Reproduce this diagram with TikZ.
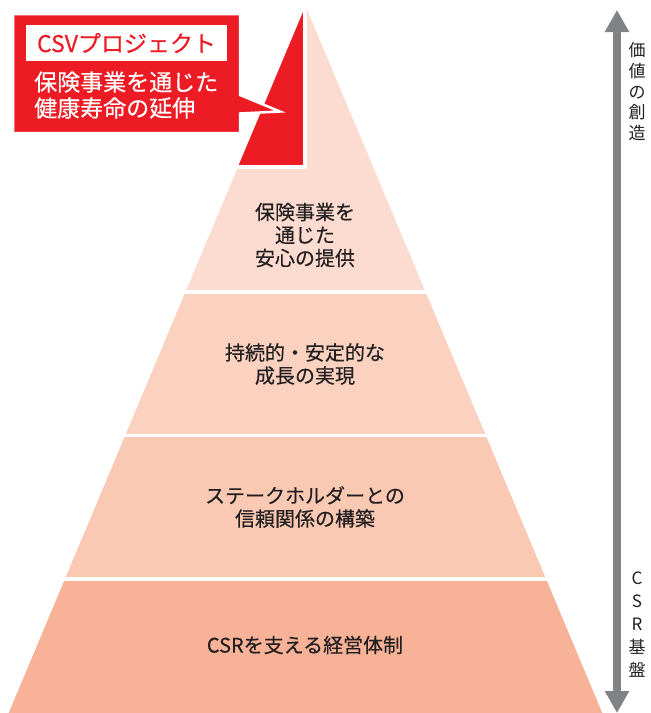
\documentclass[tikz,border=0pt]{standalone}
\usepackage{fontspec}
\newfontfamily\jp{Noto Sans CJK JP}
\newfontfamily\jpm[FakeBold=0.35]{Noto Sans CJK JP}
\usetikzlibrary{arrows.meta}
\definecolor{tierA}{HTML}{FCDCD0}
\definecolor{tierB}{HTML}{FBD2C0}
\definecolor{tierC}{HTML}{FAC9B3}
\definecolor{tierD}{HTML}{F8B298}
\definecolor{csvred}{HTML}{ED1C24}
\definecolor{arrowgray}{HTML}{808285}
\definecolor{textdark}{HTML}{231F20}
\tikzset{
  tiertext/.style={font=\jpm\fontsize{20}{23}\selectfont, text=textdark, align=center, inner sep=0pt},
  vtext/.style={font=\jp\fontsize{17}{20.6}\selectfont, text=textdark, align=center, inner sep=0pt},
}
\begin{document}
\begin{tikzpicture}[x=1pt,y=-1pt]
\useasboundingbox (0,0) rectangle (651,713);
\coordinate (apex) at (305.5,6);
\coordinate (bl) at (8.7,713);
\coordinate (br) at (602.3,713);
\begin{scope}
  \clip (apex) -- (bl) -- (br) -- cycle;
  \fill[tierA] (0,0) rectangle (651,290);
  \fill[tierB] (0,293.5) rectangle (651,433.5);
  \fill[tierC] (0,437) rectangle (651,577);
  \fill[tierD] (0,580.5) rectangle (651,713);
  \fill[white] (0,0) rectangle (307,169);
  \fill[csvred] (0,0) rectangle (303,165);
\end{scope}
% callout
\fill[csvred, draw=white, line width=2.5pt, line join=miter]
  (13,14) -- (240,14) -- (240,95) -- (280,111.5) -- (240,113.5) -- (240,133) -- (13,133) -- cycle;
\node[fill=white, minimum width=201pt, minimum height=36pt, inner sep=0pt, text=csvred,
      font=\jpm\fontsize{23}{23}\selectfont] (csvlabel) at (126.5,43) {CSVプロジェクト};
\node[anchor=west, align=left, inner sep=0pt, text=white, font=\jpm\fontsize{23}{26}\selectfont]
  (csvtext) at (34,95) {保険事業を通じた\\健康寿命の延伸};
% tier texts
\node[tiertext] (t1) at (305,235) {保険事業を\\通じた\\安心の提供};
\node[tiertext] (t2) at (305,364) {持続的・安定的な\\成長の実現};
\node[tiertext] (t3) at (305,507) {ステークホルダーとの\\信頼関係の構築};
\node[tiertext] (t4) at (305,645) {CSRを支える経営体制};
% side arrow
\coordinate (atop) at (617,10);
\coordinate (abot) at (617,713);
\draw[arrowgray, line width=8pt, {Triangle[width=23pt,length=22pt]}-{Triangle[width=23pt,length=22pt]}] (atop) -- (abot);
\node[vtext] (kachi) at (637,91.5) {価\\値\\の\\創\\造};
\node[vtext, font=\jp\fontsize{17}{23}\selectfont] (csrkiban) at (637,624.5) {C\\S\\R\\基\\盤};
\end{tikzpicture}
\end{document}
